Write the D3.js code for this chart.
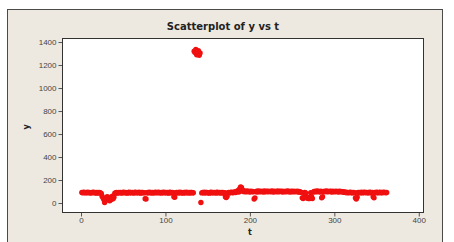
<!DOCTYPE html>
<html>
<head>
<meta charset="utf-8">
<script src="https://cdn.jsdelivr.net/npm/d3@7"></script>
<style>
  body { margin: 0; background: #fff; }
  svg { display: block; font-family: "DejaVu Sans", Verdana, sans-serif; }
</style>
</head>
<body>
<div id="chart"></div>
<script>
// daily readings, t = 1 .. 362
var yVals = [
  92, 90, 94, 91, 88, 93, 90, 95, 89, 92,
  90, 87, 93, 91, 94, 88, 90, 92, 86, 91,
  89, 93, 88, 84, 60, 45, 30, 5, 40, 25,
  55, 35, 48, 20, 42, 30, 60, 38, 50, 85,
  88, 91, 86, 90, 93, 89, 92, 87, 90, 94,
  91, 88, 93, 90, 86, 92, 95, 89, 91, 88,
  93, 90, 87, 94, 91, 89, 92, 88, 95, 90,
  86, 91, 93, 89, 90, 38, 35, 88, 92, 90,
  94, 89, 91, 87, 93, 90, 88, 95, 92, 89,
  91, 94, 88, 90, 93, 87, 92, 95, 89, 91,
  88, 93, 90, 86, 94, 91, 89, 92, 90, 55,
  50, 88, 93, 90, 91, 87, 94, 89, 92, 90,
  86, 93, 91, 88, 95, 90, 89, 92, 87, 91,
  93, 88, 90,
  1320, 1310, 1335, 1290, 1300, 1325, 1285, 1305,
  5,
  88, 92, 90, 94, 87, 91, 93, 89,
  90, 86, 92, 95, 88, 91, 89, 93, 90, 87,
  94, 91, 88, 92, 90, 93, 86, 91, 89, 90,
  55, 48, 60, 90, 93, 88, 91, 94, 92, 90,
  95, 97, 92, 100, 98, 110, 96, 125, 140, 135,
  115, 100, 104, 98, 102, 97, 105, 99, 101, 96,
  103, 99, 100, 97, 35, 45, 98, 102, 96, 104,
  100, 97, 103, 99, 101, 96, 104, 98, 100, 102,
  97, 103, 99, 101, 98, 104, 100, 96, 102, 99,
  101, 98, 104, 97, 100, 102, 99, 103, 96, 101,
  100, 97, 102, 99, 104, 98, 101, 96, 103, 100,
  98, 102, 97, 101, 99, 103, 96, 100, 98, 94,
  92, 45, 40, 50, 92, 88, 55, 42, 48, 38,
  45, 90, 55, 40, 95, 100, 98, 102, 97, 104,
  99, 101, 96, 103, 45, 55, 100, 98, 102, 99,
  104, 97, 101, 99, 103, 100, 96, 102, 98, 101,
  97, 103, 99, 100, 96, 102, 98, 101, 97, 99,
  94, 96, 92, 95, 90, 93, 89, 91, 94, 90,
  92, 88, 93, 90, 45, 35, 50, 91, 89, 93,
  90, 94, 88, 92, 91, 95, 89, 93, 90, 92,
  88, 94, 91, 89, 93, 55, 45, 92, 90, 94,
  91, 88, 93, 95, 90, 92, 89, 94, 91, 93,
  90, 92
];
var xTicks = [0, 100, 200, 300, 400];
var yTicks = [0, 200, 400, 600, 800, 1000, 1200, 1400];

var data = yVals.map(function (v, i) { return { t: i + 1, y: v }; });

var width = 454, height = 242;
var plot = { left: 62, right: 423, top: 38, bottom: 212 };

var svg = d3.select("#chart").append("svg")
  .attr("width", width)
  .attr("height", height);

// outer panel
svg.append("rect")
  .attr("x", 7.5).attr("y", 9.5)
  .attr("width", 435).attr("height", 240)
  .attr("fill", "#ede9e1")
  .attr("stroke", "#4a4a4a");

var x = d3.scaleLinear().domain([-22.5, 405]).range([plot.left, plot.right]);
var y = d3.scaleLinear().domain([-78, 1435]).range([plot.bottom, plot.top]);

svg.append("rect")
  .attr("x", plot.left + 0.5).attr("y", plot.top + 0.5)
  .attr("width", plot.right - plot.left).attr("height", plot.bottom - plot.top)
  .attr("fill", "#fff");

var xAxis = svg.append("g")
  .attr("transform", "translate(0," + (plot.bottom + 0.5) + ")")
  .call(d3.axisBottom(x).tickValues(xTicks).tickFormat(d3.format("d"))
    .tickSize(4).tickSizeOuter(0).tickPadding(1));

var yAxis = svg.append("g")
  .attr("transform", "translate(" + (plot.left + 0.5) + ",0)")
  .call(d3.axisLeft(y).tickValues(yTicks).tickFormat(d3.format("d"))
    .tickSize(4).tickSizeOuter(0).tickPadding(2));

[xAxis, yAxis].forEach(function (g) {
  g.select(".domain").remove();
  g.selectAll("line").attr("stroke", "#555");
  g.selectAll("text").attr("fill", "#444").style("font-size", "8px");
});

svg.append("g")
  .selectAll("circle")
  .data(data)
  .enter().append("circle")
  .attr("cx", function (d) { return x(d.t); })
  .attr("cy", function (d) { return y(d.y); })
  .attr("r", 2.7)
  .attr("fill", "#f01010");

svg.append("rect")
  .attr("x", plot.left + 0.5).attr("y", plot.top + 0.5)
  .attr("width", plot.right - plot.left).attr("height", plot.bottom - plot.top)
  .attr("fill", "none")
  .attr("stroke", "#333");

svg.append("text")
  .attr("x", 223).attr("y", 30)
  .attr("text-anchor", "middle")
  .style("font-size", "10px").style("font-weight", "bold")
  .attr("fill", "#222")
  .text("Scatterplot of y vs t");

svg.append("text")
  .attr("transform", "translate(29,127) rotate(-90)")
  .attr("text-anchor", "middle")
  .style("font-size", "8px").style("font-weight", "bold")
  .attr("fill", "#222")
  .text("y");

svg.append("text")
  .attr("x", x(200)).attr("y", 235)
  .attr("text-anchor", "middle")
  .style("font-size", "8px").style("font-weight", "bold")
  .attr("fill", "#222")
  .text("t");
</script>
</body>
</html>
